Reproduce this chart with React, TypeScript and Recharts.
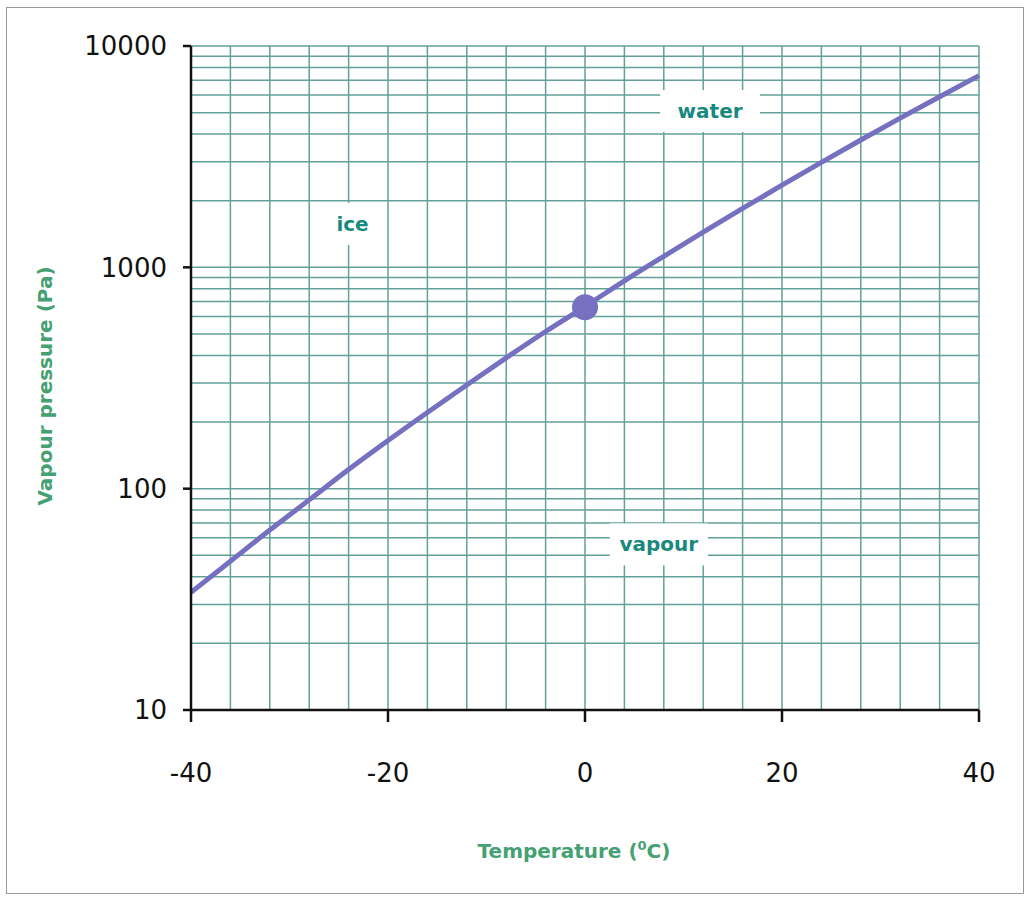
import { LineChart, Line, XAxis, YAxis, ReferenceLine, ReferenceDot } from 'recharts';

const temperatures = [-40, -36, -32, -28, -24, -20, -16, -12, -8, -4, 0, 4, 8, 12, 16, 20, 24, 28, 32, 36, 40];
const pressures = [34, 47, 65, 89, 122, 165, 221, 294, 390, 513, 665, 869, 1122, 1442, 1845, 2350, 2980, 3760, 4720, 5900, 7345];

const xTicks = [-40, -20, 0, 20, 40];
const yTicks = [10, 100, 1000, 10000];

// grid: every 4 degrees, log minor lines on y
const tempGrid = [-36, -32, -28, -24, -20, -16, -12, -8, -4, 0, 4, 8, 12, 16, 20, 24, 28, 32, 36, 40];
const decades = [10, 100, 1000];
const multipliers = [1, 2, 3, 4, 5, 6, 7, 8, 9];
const pressureGrid = [...decades.flatMap(d => multipliers.map(m => d * m)).filter(v => v > 10), 10000];

const triplePoint = { t: 0, p: 660 };

const regionLabels = [
  { text: 'ice', t: -23.6, p: 1570, w: 50 },
  { text: 'water', t: 12.7, p: 5080, w: 100 },
  { text: 'vapour', t: 7.5, p: 56, w: 98 },
];

const chartData = temperatures.map((t, i) => ({ t, p: pressures[i] }));

const GRID = '#62a09a';
const CURVE = '#7570bf';
const LABEL_GREEN = '#45a072';
const REGION_TEAL = '#17897d';
const FONT = '"DejaVu Sans", sans-serif';

export default function App() {
  return (
    <div style={{ position: 'absolute', left: 0, top: 0, width: 1026, height: 897, background: '#fff' }}>
      <div style={{ position: 'absolute', left: 6, top: 7, width: 1016, height: 885, border: '1px solid #9a9a9a' }} />
      <LineChart width={1026} height={897} data={chartData} margin={{ top: 46, right: 47, left: 0, bottom: 0 }}>
        <XAxis
          dataKey="t"
          type="number"
          domain={[-40, 40]}
          ticks={xTicks}
          height={187}
          tickSize={12}
          tickMargin={42}
          stroke="#111"
          strokeWidth={2.5}
          tick={{ fill: '#111', fontSize: 26, fontFamily: FONT }}
          label={({ viewBox }: any) => (
            <text
              x={viewBox.x + viewBox.width / 2 - 11}
              y={858}
              textAnchor="middle"
              fill={LABEL_GREEN}
              fontSize={20}
              fontWeight="bold"
              fontFamily={FONT}
            >
              Temperature (<tspan fontSize={13} dy={-8}>0</tspan><tspan dy={8}>C)</tspan>
            </text>
          )}
        />
        <YAxis
          dataKey="p"
          type="number"
          scale="log"
          domain={[10, 10000]}
          allowDataOverflow
          ticks={yTicks}
          width={191}
          tickSize={8}
          tickMargin={16}
          stroke="#111"
          strokeWidth={2.5}
          tick={{ fill: '#111', fontSize: 26, fontFamily: FONT }}
          label={({ viewBox }: any) => {
            const cy = viewBox.y + viewBox.height / 2 + 8;
            return (
              <text
                x={45}
                y={cy}
                transform={`rotate(-90 45 ${cy})`}
                textAnchor="middle"
                dominantBaseline="central"
                fill={LABEL_GREEN}
                fontSize={20}
                fontWeight="bold"
                fontFamily={FONT}
              >
                Vapour pressure (Pa)
              </text>
            );
          }}
        />
        {pressureGrid.map(v => (
          <ReferenceLine key={'h' + v} y={v} stroke={GRID} strokeWidth={1.5} />
        ))}
        {tempGrid.map(v => (
          <ReferenceLine key={'v' + v} x={v} stroke={GRID} strokeWidth={1.5} />
        ))}
        {regionLabels.map(l => (
          <ReferenceDot
            key={l.text}
            x={l.t}
            y={l.p}
            r={1}
            shape={(props: any) => (
              <g>
                <rect x={props.cx - l.w / 2} y={props.cy - 21} width={l.w} height={42} fill="#fff" />
                <text
                  x={props.cx}
                  y={props.cy}
                  textAnchor="middle"
                  dominantBaseline="central"
                  fill={REGION_TEAL}
                  fontSize={20}
                  fontWeight="bold"
                  fontFamily={FONT}
                >
                  {l.text}
                </text>
              </g>
            )}
          />
        ))}
        <Line
          type="monotone"
          dataKey="p"
          stroke={CURVE}
          strokeWidth={5}
          dot={false}
          isAnimationActive={false}
        />
        <ReferenceDot x={triplePoint.t} y={triplePoint.p} r={13} fill={CURVE} stroke="none" />
      </LineChart>
    </div>
  );
}
